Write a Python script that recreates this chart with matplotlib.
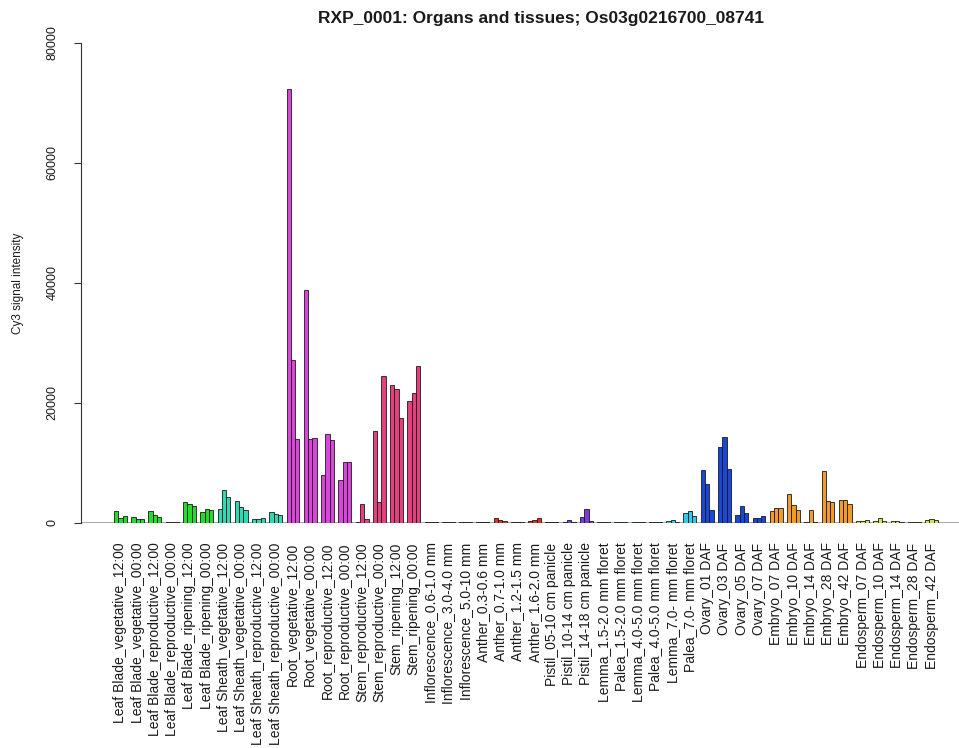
import numpy as np
import matplotlib
matplotlib.use('Agg')
import matplotlib.pyplot as plt

plt.rcParams['font.family'] = ['Liberation Sans', 'DejaVu Sans']

# sample names (one group of 3 replicates each)
samples = [
    'Leaf Blade_vegetative_12:00', 'Leaf Blade_vegetative_00:00',
    'Leaf Blade_reproductive_12:00', 'Leaf Blade_reproductive_00:00',
    'Leaf Blade_ripening_12:00', 'Leaf Blade_ripening_00:00',
    'Leaf Sheath_vegetative_12:00', 'Leaf Sheath_vegetative_00:00',
    'Leaf Sheath_reproductive_12:00', 'Leaf Sheath_reproductive_00:00',
    'Root_vegetative_12:00', 'Root_vegetative_00:00',
    'Root_reproductive_12:00', 'Root_reproductive_00:00',
    'Stem_reproductive_12:00', 'Stem_reproductive_00:00',
    'Stem_ripening_12:00', 'Stem_ripening_00:00',
    'Inflorescence_0.6-1.0 mm', 'Inflorescence_3.0-4.0 mm', 'Inflorescence_5.0-10 mm',
    'Anther_0.3-0.6 mm', 'Anther_0.7-1.0 mm', 'Anther_1.2-1.5 mm', 'Anther_1.6-2.0 mm',
    'Pistil_05-10 cm panicle', 'Pistil_10-14 cm panicle', 'Pistil_14-18 cm panicle',
    'Lemma_1.5-2.0 mm floret', 'Palea_1.5-2.0 mm floret',
    'Lemma_4.0-5.0 mm floret', 'Palea_4.0-5.0 mm floret',
    'Lemma_7.0- mm floret', 'Palea_7.0- mm floret',
    'Ovary_01 DAF', 'Ovary_03 DAF', 'Ovary_05 DAF', 'Ovary_07 DAF',
    'Embryo_07 DAF', 'Embryo_10 DAF', 'Embryo_14 DAF', 'Embryo_28 DAF', 'Embryo_42 DAF',
    'Endosperm_07 DAF', 'Endosperm_10 DAF', 'Endosperm_14 DAF',
    'Endosperm_28 DAF', 'Endosperm_42 DAF',
]

# replicate signal values
rep1 = [1950, 950, 2000, 250, 3500, 1830, 2390, 3610, 720, 1780,
        72400, 38780, 7950, 7110, 200, 15280, 23070, 20280,
        150, 150, 150, 100, 830, 200, 330, 150, 200, 1000,
        100, 100, 100, 100, 330, 1700,
        8780, 12610, 1280, 830, 1940, 4890, 100, 8610, 3780,
        330, 390, 330, 150, 440]
rep2 = [890, 610, 1280, 200, 3220, 2390, 5440, 2670, 720, 1560,
        27230, 14070, 14780, 10170, 3230, 3500, 22280, 21670,
        120, 200, 150, 120, 560, 150, 560, 150, 560, 2390,
        100, 100, 100, 120, 450, 1940,
        6560, 14330, 2780, 830, 2560, 3060, 2110, 3610, 3890,
        390, 780, 330, 100, 610]
rep3 = [1100, 720, 1000, 100, 2780, 2220, 4330, 2220, 830, 1280,
        14070, 14100, 13900, 10100, 730, 24500, 17570, 26230,
        150, 180, 120, 100, 330, 100, 890, 150, 200, 330,
        100, 100, 100, 100, 220, 1200,
        2220, 9060, 1670, 1110, 2560, 2110, 150, 3440, 3220,
        560, 390, 220, 100, 560]

tissue_colors = {
    'Leaf Blade': '#27DB2A',
    'Leaf Sheath': '#30D9B0',
    'Root': '#DA45DC',
    'Stem': '#E5407E',
    'Inflorescence': '#D9583A',
    'Anther': '#D93626',
    'Pistil': '#7A3BDB',
    'Lemma': '#36C8E6',
    'Palea': '#36C8E6',
    'Ovary': '#1B46D8',
    'Embryo': '#F39A2C',
    'Endosperm': '#C9E552',
}

colors = [tissue_colors[s.split('_')[0]] for s in samples]

fig = plt.figure(figsize=(9.59, 7.48), dpi=100)
ax = fig.add_axes([81 / 959, 225 / 748, 890 / 959, 480 / 748])

n = len(samples)
centers = 2.5 + 4 * np.arange(n)
for off, vals in zip([-1, 0, 1], [rep1, rep2, rep3]):
    ax.bar(centers + off, vals, width=1, color=colors,
           edgecolor='#1a1a1a', linewidth=0.6, zorder=2)

ax.axhline(0, color='#9a9a9a', linewidth=1.2, zorder=1)

ax.set_xlim(-6.64, 199.64)
ax.set_ylim(0, 80000)

for side in ['top', 'right', 'bottom']:
    ax.spines[side].set_visible(False)
ax.spines['left'].set_bounds(0, 80000)
ax.spines['left'].set_linewidth(0.8)
ax.spines['left'].set_color('#333333')

ax.set_xticks(centers)
ax.set_xticklabels(samples, rotation=90, fontsize=10, color='#1a1a1a')
ax.tick_params(axis='x', length=0, pad=14)

ax.set_yticks([0, 20000, 40000, 60000, 80000])
ax.set_yticklabels(['0', '20000', '40000', '60000', '80000'], fontsize=9,
                   rotation=90, va='center', color='#1a1a1a')
ax.tick_params(axis='y', length=5, width=0.8, pad=11, color='#333333')

fig.text(18 / 959, 1 - 283 / 748, 'Cy3 signal intensity', rotation=90,
         ha='center', va='center', fontsize=8.5, color='#1a1a1a')
fig.text(541 / 959, 1 - 18 / 748, 'RXP_0001: Organs and tissues; Os03g0216700_08741',
         ha='center', va='center', fontsize=12.5, fontweight='bold', color='#1a1a1a')

fig.savefig('out.png', dpi=100)
